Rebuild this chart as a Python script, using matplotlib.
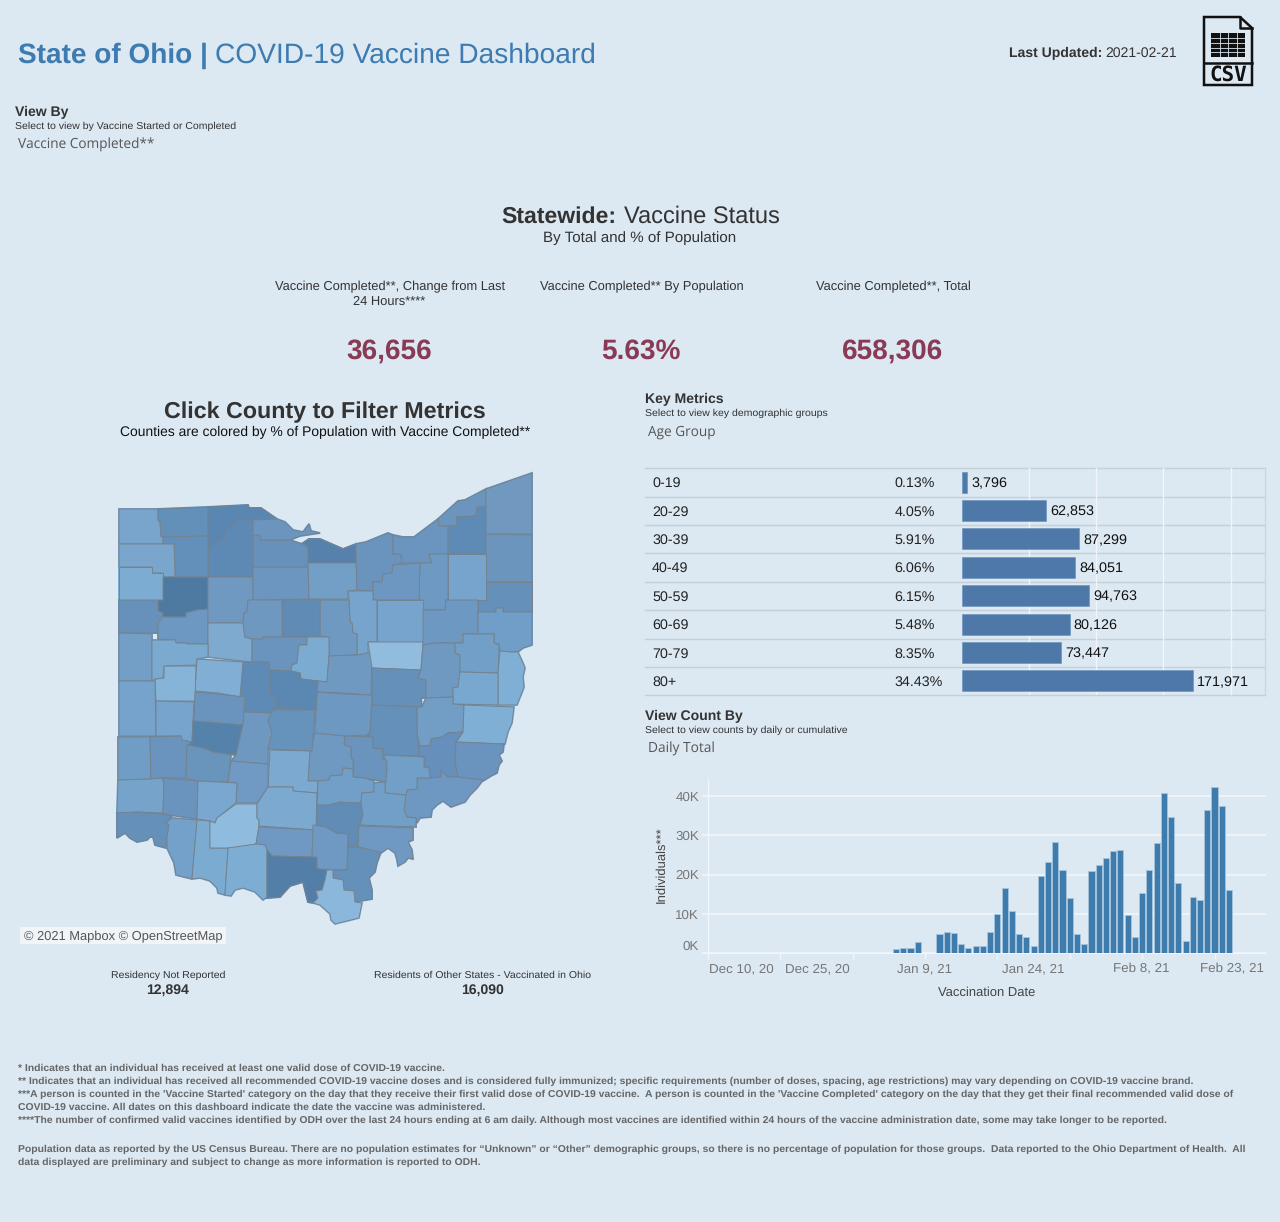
import matplotlib
matplotlib.use('Agg')
import pandas as pd
import matplotlib.pyplot as plt
import matplotlib.dates as mdates
from matplotlib.patches import Polygon, Rectangle

plt.rcParams['font.family'] = ['Liberation Sans', 'DejaVu Sans']
plt.rcParams['text.hinting'] = 'no_hinting'
plt.rcParams['text.hinting_factor'] = 8

W, H = 1280, 1222
BG = '#dce8f2'
BLUE = '#3d7bb0'
DARK = '#333333'
RED = '#8a3a54'
GRID = '#f2f6fa'

# age table
age_groups = ['0-19', '20-29', '30-39', '40-49', '50-59', '60-69', '70-79', '80+']
age_pct = ['0.13%', '4.05%', '5.91%', '6.06%', '6.15%', '5.48%', '8.35%', '34.43%']
age_counts = [3796, 62853, 87299, 84051, 94763, 80126, 73447, 171971]

# daily counts, first bar is 2021-01-06
first_day = '2021-01-06'
daily_counts = [1000, 1300, 1300, 2800, 100, 0,
                4800, 5350, 5100, 2200, 1300, 1900, 1900, 5400, 9900, 16700,
                10800, 4800, 4000, 1900, 19700, 23300, 28300, 21200, 14100, 4800,
                2200, 20900, 22400, 24200, 26000, 26200, 9600, 4200, 15300, 21200,
                28000, 40800, 34600, 17900, 3100, 14400, 13500, 36400, 42300, 37500,
                16100]
date_ticks = ['2020-12-11', '2020-12-21', '2020-12-31', '2021-01-10',
              '2021-01-20', '2021-01-30', '2021-02-09', '2021-02-19']
date_label_pos = ['2020-12-15 14:00', '2020-12-26 02:00', '2021-01-10 00:00',
                  '2021-01-24 22:00', '2021-02-08 22:00', '2021-02-21 10:00']
date_labels = ['Dec 10, 20', 'Dec 25, 20', 'Jan 9, 21', 'Jan 24, 21', 'Feb 8, 21', 'Feb 23, 21']
count_ticks = [0, 10000, 20000, 30000, 40000]
count_labels = ['0K', '10K', '20K', '30K', '40K']

county_outlines = {
    'Williams': [(119,509),(158,509),(158,520),(160,522),(161,534),(163,535),(163,544),(119,544)],
    'Fulton': [(158,509),(208,507),(208,536),(161,537),(160,522),(158,520)],
    'Lucas': [(208,507),(248,505),(249,508),(261,508),(277,519),(238,520),(226,530),(224,538),(209,547),(208,547)],
    'Wood': [(238,520),(253,520),(253,577),(208,577),(208,547),(224,538),(226,530)],
    'Henry': [(163,537),(208,536),(208,577),(175,577),(174,544),(163,544)],
    'Defiance': [(119,544),(174,544),(175,577),(163,577),(163,573),(152,573),(152,567),(119,567)],
    'Paulding': [(119,567),(152,567),(152,573),(163,573),(163,600),(119,600)],
    'Putnam': [(163,577),(208,577),(208,609),(197,610),(186,613),(186,617),(163,617),(158,611),(158,600),(163,600)],
    'Van Wert': [(119,600),(158,600),(158,611),(163,613),(163,623),(158,623),(158,633),(119,633)],
    'Allen': [(158,623),(163,617),(186,617),(186,613),(197,610),(208,609),(208,644),(186,644),(186,643),(175,643),(175,640),(158,639)],
    'Hancock': [(208,577),(253,577),(253,600),(248,602),(247,612),(244,613),(243,623),(208,623)],
    'Hardin': [(208,623),(243,623),(245,637),(252,639),(252,662),(233,660),(208,657)],
    'Seneca': [(253,567),(308,567),(309,599),(253,600)],
    'Sandusky': [(253,535),(260,535),(261,540),(290,540),(302,544),(308,547),(308,567),(253,567)],
    'Ottawa': [(253,520),(277,519),(285,522),(293,530),(303,532),(309,524),(311,531),(320,533),(300,536),(290,540),(261,540),(260,535),(253,535)],
    'Erie': [(303,543),(309,539),(320,539),(343,549),(356,544),(356,563),(308,563),(308,547)],
    'Huron': [(308,563),(356,563),(357,590),(348,591),(348,599),(309,599)],
    'Lorain': [(356,544),(366,542),(388,533),(393,535),(393,554),(401,554),(402,563),(393,565),(392,573),(383,574),(382,582),(373,582),(373,591),(357,590)],
    'Cuyahoga': [(393,535),(403,537),(414,537),(438,519),(439,526),(448,526),(448,554),(429,554),(432,563),(402,563),(401,554),(393,554)],
    'Lake': [(438,519),(458,501),(465,500),(486,489),(486,507),(477,507),(476,516),(457,517),(457,526),(439,526)],
    'Geauga': [(457,517),(476,516),(477,507),(486,507),(486,554),(448,554),(448,526),(457,526)],
    'Ashtabula': [(486,489),(532,473),(532,534),(486,534)],
    'Trumbull': [(486,534),(532,535),(532,582),(486,582)],
    'Mahoning': [(486,582),(532,582),(532,612),(503,612),(503,608),(496,608),(496,612),(478,612),(478,600),(486,600)],
    'Portage': [(448,554),(486,554),(486,600),(448,600)],
    'Summit': [(420,563),(432,563),(429,554),(448,554),(448,600),(446,600),(445,610),(423,610),(423,600),(419,600)],
    'Medina': [(393,565),(420,563),(419,600),(373,600),(373,582),(382,582),(383,574),(392,573)],
    'Ashland': [(348,591),(373,591),(373,600),(377,600),(377,642),(368,642),(368,653),(357,655),(357,634),(353,633),(352,623),(350,622),(349,600)],
    'Wayne': [(377,600),(423,600),(423,642),(377,642)],
    'Stark': [(423,610),(445,610),(446,600),(478,600),(478,634),(463,634),(463,643),(435,643),(423,645)],
    'Columbiana': [(478,612),(496,612),(496,608),(503,608),(503,612),(532,612),(532,645),(523,648),(518,652),(510,652),(500,651),(499,644),(494,643),(494,634),(478,634)],
    'Crawford': [(320,600),(349,600),(350,622),(352,623),(353,633),(357,634),(357,655),(329,656),(329,637),(320,636)],
    'Wyandot': [(248,600),(282,600),(282,637),(263,637),(263,639),(252,639),(245,637),(243,623),(244,613),(247,612)],
    'Marion': [(283,600),(320,600),(320,636),(283,637)],
    'Morrow': [(252,639),(263,639),(263,637),(307,637),(307,645),(299,645),(297,663),(292,665),(291,671),(270,670),(269,662),(252,662)],
    'Richland': [(307,637),(329,637),(329,656),(327,682),(301,679),(300,673),(291,671),(292,665),(297,663),(299,645),(307,645)],
    'Knox': [(329,656),(357,655),(368,653),(372,654),(371,695),(343,693),(320,692),(317,692),(318,681),(327,682)],
    'Holmes': [(368,642),(423,642),(421,670),(372,668)],
    'Coshocton': [(372,668),(421,670),(418,678),(426,680),(426,698),(421,698),(422,707),(372,705)],
    'Carroll': [(423,645),(435,643),(455,643),(455,653),(460,655),(460,672),(458,687),(453,688),(453,697),(426,698),(426,680),(418,678),(421,670)],
    'Tuscarawas': [(455,643),(463,643),(463,634),(494,634),(494,643),(499,645),(499,651),(498,673),(460,672),(460,655),(455,653)],
    'Jefferson': [(500,651),(510,652),(518,652),(523,663),(525,668),(523,677),(524,687),(523,690),(517,705),(498,705),(498,673)],
    'Harrison': [(460,672),(498,673),(498,705),(453,704),(453,688),(458,687)],
    'Guernsey': [(426,698),(453,697),(453,704),(464,705),(463,732),(448,733),(442,737),(431,739),(430,746),(420,746),(417,733),(417,707),(422,707)],
    'Belmont': [(464,705),(514,707),(512,723),(508,732),(505,744),(456,742),(463,732)],
    'Muskingum': [(372,705),(417,707),(417,733),(419,747),(419,756),(383,755),(383,749),(373,748),(373,737),(367,735),(370,732)],
    'Noble': [(420,746),(430,746),(431,739),(442,737),(448,733),(463,732),(456,742),(455,762),(458,777),(448,777),(441,771),(441,777),(430,778),(429,768),(424,767),(424,757),(419,756),(419,747)],
    'Monroe': [(456,742),(504,744),(503,752),(499,755),(502,761),(499,765),(497,773),(491,776),(483,781),(458,777),(455,762)],
    'Washington': [(441,777),(441,771),(448,777),(458,777),(483,780),(477,788),(470,795),(465,802),(451,807),(443,801),(437,805),(432,810),(431,817),(420,818),(417,823),(416,818),(407,817),(404,810),(405,795),(407,790),(417,789),(417,778),(430,778)],
    'Morgan': [(383,755),(424,757),(424,767),(429,768),(430,778),(417,778),(417,789),(407,790),(406,795),(385,793),(385,781),(387,770),(386,760)],
    'Perry': [(345,736),(373,737),(373,748),(383,749),(383,759),(387,761),(386,782),(364,778),(353,777),(353,760),(351,758),(351,747),(344,745)],
    'Fairfield': [(315,733),(345,736),(344,745),(351,747),(351,758),(353,760),(353,769),(343,768),(342,775),(330,776),(329,780),(320,781),(308,781),(310,751)],
    'Licking': [(317,692),(343,694),(372,695),(370,732),(367,735),(345,736),(315,733)],
    'Delaware': [(270,670),(291,671),(300,673),(301,679),(318,681),(316,710),(270,708)],
    'Union': [(242,662),(269,662),(270,695),(277,697),(276,713),(244,712),(240,695)],
    'Logan': [(197,659),(243,662),(240,697),(218,693),(195,691)],
    'Auglaize2': [(155,679),(164,678),(164,666),(196,666),(195,701),(156,701)],
    'Mercer': [(119,633),(152,634),(152,681),(119,681)],
    'Auglaize': [(152,640),(175,640),(176,643),(186,643),(187,644),(208,644),(208,657),(197,659),(196,665),(164,666),(163,678),(155,679),(152,681)],
    'Darke': [(119,681),(155,681),(156,736),(119,736)],
    'Miami': [(156,701),(194,702),(192,742),(182,740),(181,736),(156,736)],
    'Champaign': [(195,692),(217,694),(245,697),(243,725),(194,721)],
    'Clark': [(193,721),(243,725),(236,755),(213,752),(203,748),(187,745),(192,742)],
    'Madison': [(244,712),(273,713),(268,720),(272,733),(268,750),(268,764),(231,761),(236,755),(243,725)],
    'Franklin': [(273,710),(315,710),(312,751),(268,749),(272,733),(268,720)],
    'Pickaway': [(270,750),(310,751),(308,781),(318,781),(317,793),(293,791),(293,787),(268,787)],
    'Preble': [(118,737),(150,737),(151,779),(118,780)],
    'Montgomery': [(150,737),(181,736),(182,740),(191,742),(187,746),(186,778),(162,778),(151,779)],
    'Greene': [(187,745),(203,748),(213,752),(231,755),(228,782),(198,781),(186,778)],
    'Fayette': [(231,761),(268,764),(268,787),(257,803),(236,803),(237,783),(228,782)],
    'Butler': [(118,780),(151,779),(162,778),(164,783),(163,813),(137,812),(117,813)],
    'Warren': [(162,778),(198,781),(197,819),(163,814),(164,783)],
    'Clinton': [(198,781),(237,783),(236,803),(217,818),(215,823),(210,821),(197,819)],
    'Hamilton': [(117,813),(137,812),(163,814),(172,816),(166,823),(169,825),(167,837),(166,848),(155,845),(153,837),(150,837),(147,840),(137,842),(130,838),(125,833),(117,838)],
    'Clermont': [(172,818),(197,820),(192,879),(176,875),(174,863),(167,848),(167,837),(169,825),(166,823)],
    'Brown': [(197,820),(210,821),(210,848),(228,848),(225,895),(218,893),(217,888),(210,881),(200,878),(192,879)],
    'Highland': [(210,821),(215,823),(217,818),(236,804),(257,804),(257,818),(259,820),(259,826),(256,844),(235,848),(210,848)],
    'Ross': [(257,804),(268,787),(293,787),(293,791),(317,793),(316,830),(259,826),(259,820),(257,818)],
    'Pike': [(259,827),(316,830),(312,857),(272,856),(267,850),(265,845),(256,844)],
    'Adams': [(228,848),(256,844),(265,845),(267,850),(267,897),(263,900),(255,892),(243,888),(235,890),(231,896),(225,895)],
    'Scioto': [(267,850),(272,856),(312,857),(317,857),(317,868),(327,870),(325,880),(322,890),(316,891),(318,898),(313,903),(308,902),(305,890),(303,882),(290,886),(280,897),(267,898)],
    'Jackson': [(313,825),(320,826),(326,827),(337,833),(348,834),(347,870),(320,869),(317,868),(317,857),(312,857)],
    'Vinton': [(317,805),(328,805),(340,802),(361,803),(363,815),(359,826),(358,847),(348,847),(348,834),(337,833),(326,827),(317,825)],
    'Hocking': [(318,781),(329,780),(330,776),(342,775),(343,768),(353,769),(353,777),(364,778),(374,781),(374,792),(362,793),(361,803),(340,802),(328,805),(317,805)],
    'Athens': [(374,783),(385,782),(385,793),(406,795),(404,810),(407,817),(416,818),(416,827),(360,825),(363,815),(361,803),(362,793),(374,792)],
    'Meigs': [(359,826),(413,828),(413,840),(408,842),(412,850),(413,859),(408,858),(405,862),(398,866),(397,860),(395,853),(388,848),(381,853),(358,847)],
    'Gallia': [(348,847),(358,847),(381,852),(377,863),(375,872),(369,878),(372,890),(372,899),(355,902),(354,891),(344,890),(343,880),(333,878),(333,870),(347,870)],
    'Lawrence': [(327,870),(333,870),(333,878),(343,880),(344,890),(354,891),(355,902),(362,903),(359,918),(347,921),(335,924),(331,920),(330,914),(320,905),(313,903),(318,898),(316,891),(322,890),(325,880)],
}
county_colors = {
    'Williams': '#79a5cc', 'Fulton': '#6290b9', 'Lucas': '#5a87b2', 'Wood': '#5d8ab4',
    'Henry': '#6290ba', 'Defiance': '#7aa6cd', 'Paulding': '#7dacd2', 'Putnam': '#4e7aa2',
    'Van Wert': '#6791bb', 'Allen': '#6d98c1', 'Hancock': '#7099c1', 'Hardin': '#7eaad0',
    'Seneca': '#6c96bf', 'Sandusky': '#6791bb', 'Ottawa': '#6b95be', 'Erie': '#5681ac',
    'Huron': '#739fc7', 'Lorain': '#6a94bd', 'Cuyahoga': '#6b95be', 'Lake': '#6b95bd',
    'Geauga': '#5e8bb5', 'Ashtabula': '#7199bf', 'Trumbull': '#6b95bd', 'Mahoning': '#6490ba',
    'Portage': '#77a4cd', 'Summit': '#6e99c2', 'Medina': '#6d97c0', 'Ashland': '#77a4cd',
    'Wayne': '#77a4cd', 'Stark': '#6d98c1', 'Columbiana': '#719ec8', 'Crawford': '#7099c2',
    'Wyandot': '#6f98c1', 'Marion': '#5f8bb5', 'Morrow': '#6a94bd', 'Richland': '#7cabd2',
    'Knox': '#7099c1', 'Holmes': '#91bcdd', 'Coshocton': '#6490ba', 'Carroll': '#7099c2',
    'Tuscarawas': '#729fc8', 'Jefferson': '#7fafd5', 'Harrison': '#78a7cf', 'Guernsey': '#729dc4',
    'Belmont': '#80afd6', 'Muskingum': '#6490ba', 'Noble': '#668fbb', 'Monroe': '#6a94bd',
    'Washington': '#6e97c2', 'Morgan': '#729fc8', 'Perry': '#6a94bd', 'Fairfield': '#7099c1',
    'Licking': '#6d98c1', 'Delaware': '#5b88b2', 'Union': '#5e8bb5', 'Logan': '#80aed4',
    'Auglaize2': '#86b3d8', 'Mercer': '#739fc7', 'Auglaize': '#7baad0', 'Darke': '#75a3cb',
    'Miami': '#77a4cd', 'Champaign': '#6a94bd', 'Clark': '#5582ab', 'Madison': '#6f98c1',
    'Franklin': '#6693bc', 'Pickaway': '#7ca9cf', 'Preble': '#6f9dc5', 'Montgomery': '#6a94be',
    'Greene': '#6995bc', 'Fayette': '#7099c3', 'Butler': '#75a3ca', 'Warren': '#6a94bd',
    'Clinton': '#79a7cf', 'Hamilton': '#6490ba', 'Clermont': '#73a1ca', 'Brown': '#7cabd2',
    'Highland': '#8fbbde', 'Ross': '#7ca9cf', 'Pike': '#6f99c2', 'Adams': '#7eadd3',
    'Scioto': '#527ea7', 'Jackson': '#6f99c3', 'Vinton': '#608cb6', 'Hocking': '#729fc7',
    'Athens': '#729fc7', 'Meigs': '#6f99c3', 'Gallia': '#6490ba', 'Lawrence': '#8ab7db',
}

footnotes = [
    (1068, "* Indicates that an individual has received at least one valid dose of COVID-19 vaccine."),
    (1081, "** Indicates that an individual has received all recommended COVID-19 vaccine doses and is considered fully immunized; specific requirements (number of doses, spacing, age restrictions) may vary depending on COVID-19 vaccine brand."),
    (1094, "***A person is counted in the 'Vaccine Started' category on the day that they receive their first valid dose of COVID-19 vaccine.  A person is counted in the 'Vaccine Completed' category on the day that they get their final recommended valid dose of"),
    (1107, "COVID-19 vaccine. All dates on this dashboard indicate the date the vaccine was administered."),
    (1120, "****The number of confirmed valid vaccines identified by ODH over the last 24 hours ending at 6 am daily. Although most vaccines are identified within 24 hours of the vaccine administration date, some may take longer to be reported."),
    (1149, "Population data as reported by the US Census Bureau. There are no population estimates for \u201cUnknown\u201d or \u201cOther\u201d demographic groups, so there is no percentage of population for those groups.  Data reported to the Ohio Department of Health.  All"),
    (1162, "data displayed are preliminary and subject to change as more information is reported to ODH."),
]


def px_axes(left, top, right, bottom):
    return fig.add_axes([left / W, 1 - bottom / H, (right - left) / W, (bottom - top) / H])


def put(x, y, s, size, color=DARK, weight='normal', ha='left', **kw):
    return page.text(x, y + size * 0.07, s, fontsize=size * 0.72, color=color, fontweight=weight,
                     ha=ha, va='center', **kw)


fig = plt.figure(figsize=(W / 100, H / 100), dpi=100, facecolor=BG)
page = fig.add_axes([0, 0, 1, 1])
page.set_xlim(0, W)
page.set_ylim(H, 0)
page.axis('off')

# header
put(18, 54, 'State of Ohio |', 28, BLUE, 'bold')
put(215, 54, 'COVID-19 Vaccine Dashboard', 28.1, BLUE)
put(1009, 52, 'Last Updated:', 14, DARK, 'bold')
put(1105, 52, '2021-02-21', 14)

# csv icon
page.add_patch(Polygon([(1204, 17), (1240, 17), (1252, 28), (1252, 85), (1204, 85)],
                       fc='none', ec='#111111', lw=1.8))
page.plot([1240, 1240, 1252], [17, 28, 28], color='#111111', lw=1.8)
page.plot([1204, 1252], [63, 63], color='#111111', lw=1.8)
page.add_patch(Rectangle((1211, 33), 34, 24, fc='#111111', ec='none'))
for gx in [1219.5, 1228, 1236.5]:
    page.plot([gx, gx], [33, 57], color=BG, lw=0.6)
for gy in [38, 42.8, 47.6, 52.4]:
    page.plot([1211, 1245], [gy, gy], color=BG, lw=0.6)
page.text(1228, 74.5, 'CSV', fontsize=15, family='DejaVu Sans Mono', fontweight='bold',
          color='#111111', ha='center', va='center')

# view by
put(15, 111, 'View By', 14, DARK, 'bold')
put(15, 126, 'Select to view by Vaccine Started or Completed', 10.45)
put(18, 143, 'Vaccine Completed**', 13.6, '#555555', family='Open Sans')

# statewide
put(501, 215, 'Statewide:', 23, DARK, 'bold')
put(624, 215, 'Vaccine Status', 23.6)
put(640, 237, 'By Total and % of Population', 15.1, ha='center')
put(390, 286, 'Vaccine Completed**, Change from Last', 12.9, ha='center')
put(389, 301, '24 Hours****', 12.9, ha='center')
put(642, 286, 'Vaccine Completed** By Population', 12.9, ha='center')
put(893, 286, 'Vaccine Completed**, Total', 12.9, ha='center')
put(389, 349, '36,656', 28, RED, 'bold', ha='center')
put(641, 349, '5.63%', 28, RED, 'bold', ha='center')
put(893, 349, '658,306', 28, RED, 'bold', ha='center')

# map
put(325, 411, 'Click County to Filter Metrics', 23.2, DARK, 'bold', ha='center')
put(325, 432, 'Counties are colored by % of Population with Vaccine Completed**', 13.9, '#111111', ha='center')
for name, outline in county_outlines.items():
    page.add_patch(Polygon(outline, closed=True, fc=county_colors[name], ec=county_colors[name], lw=1.4))
for name, outline in county_outlines.items():
    page.add_patch(Polygon(outline, closed=True, fc=county_colors[name], ec='#74838f', lw=0.7,
                           joinstyle='round'))
page.add_patch(Rectangle((20, 927), 206, 17, fc='#f1f5f8', ec='none'))
put(24, 936, '\u00a9 2021 Mapbox \u00a9 OpenStreetMap', 12.85, '#555555')
put(168, 975, 'Residency Not Reported', 10.5, ha='center')
put(168, 989, '12,894', 14, DARK, 'bold', ha='center')
put(483, 975, 'Residents of Other States - Vaccinated in Ohio', 10.5, ha='center')
put(483, 989, '16,090', 14, DARK, 'bold', ha='center')

# key metrics table
put(645, 398, 'Key Metrics', 14, DARK, 'bold')
put(645, 413, 'Select to view key demographic groups', 10.45)
put(648, 431, 'Age Group', 13.6, '#555555', family='Open Sans')

ax_age = px_axes(962, 468, 1265, 695)
ax_age.patch.set_alpha(0)
ax_age.set_xlim(0, 225600)
ax_age.set_ylim(len(age_groups) - 0.5, -0.5)
ax_age.set_xticks([50000, 100000, 150000, 200000])
ax_age.set_yticks([])
ax_age.tick_params(length=0, labelbottom=False)
ax_age.grid(axis='x', color=GRID, lw=1)
ax_age.set_axisbelow(True)
for s in ['top', 'bottom', 'left']:
    ax_age.spines[s].set_visible(False)
ax_age.spines['right'].set_color('#cbd4db')
ax_age.barh(range(len(age_groups)), age_counts, height=0.74, color='#4d78a8', edgecolor='#6f97c0', lw=0.5)
for i, v in enumerate(age_counts):
    ax_age.annotate(f'{v:,}', (v, i), xytext=(3, -1), textcoords='offset points',
                    fontsize=10.4, color='#111111', va='center')

row_edges = [468, 496.5, 525, 553, 582, 610, 638.5, 667, 695]
for ry in row_edges:
    page.plot([645, 1265], [ry, ry], color='#c6cfd6', lw=1)
for i, g in enumerate(age_groups):
    ry = (row_edges[i] + row_edges[i + 1]) / 2
    put(652, ry, g, 14.3, '#222222')
    put(894.5, ry, age_pct[i], 14.3, '#222222')

# view count
put(645, 715, 'View Count By', 14, DARK, 'bold')
put(645, 730, 'Select to view counts by daily or cumulative', 10.45)
put(648, 748, 'Daily Total', 13.8, '#555555', family='Open Sans')

days = pd.date_range(first_day, periods=len(daily_counts))
jan10 = mdates.date2num(pd.Timestamp('2021-01-10'))
day_px = 7.238
ax_day = px_axes(702, 779, 1266, 953)
ax_day.patch.set_alpha(0)
ax_day.set_xlim(jan10 + (702 - 925) / day_px, jan10 + (1266 - 925) / day_px)
ax_day.set_ylim(0, 44400)
ax_day.bar(mdates.date2num(days), daily_counts, width=0.84, color='#3f7cae', edgecolor='#a7c5de', lw=0.6, zorder=3)
ax_day.set_yticks(count_ticks)
ax_day.set_yticklabels(count_labels, fontsize=9.6, color='#777777')
ax_day.get_yticklabels()[0].set_va('bottom')
ax_day.xaxis.remove_overlapping_locs = False
ax_day.set_xticks(mdates.date2num(pd.to_datetime(date_ticks)))
ax_day.set_xticklabels([])
ax_day.set_xticks(mdates.date2num(pd.to_datetime(date_label_pos)), minor=True)
ax_day.set_xticklabels(date_labels, minor=True, fontsize=9.6, color='#777777')
ax_day.tick_params(axis='x', which='major', length=4, color=GRID, width=1)
ax_day.tick_params(axis='x', which='minor', length=0, pad=7.5)
ax_day.tick_params(axis='y', length=0, pad=2)
ax_day.grid(axis='y', color=GRID, lw=1.2, zorder=1)
for s in ['top', 'right', 'left']:
    ax_day.spines[s].set_visible(False)
ax_day.spines['bottom'].set_color(GRID)
ax_day.axvline(mdates.date2num(pd.Timestamp(date_ticks[0])), color=GRID, lw=1, zorder=1)
put(661, 863.5, 'Individuals***', 13, '#444444', rotation=90, ha='center')
put(987, 992, 'Vaccination Date', 13, '#444444', ha='center')

# footnotes
for fy, line in footnotes:
    put(18, fy, line, 10.4, '#666666', 'bold')

fig.savefig('out.png', dpi=100, facecolor=BG)
